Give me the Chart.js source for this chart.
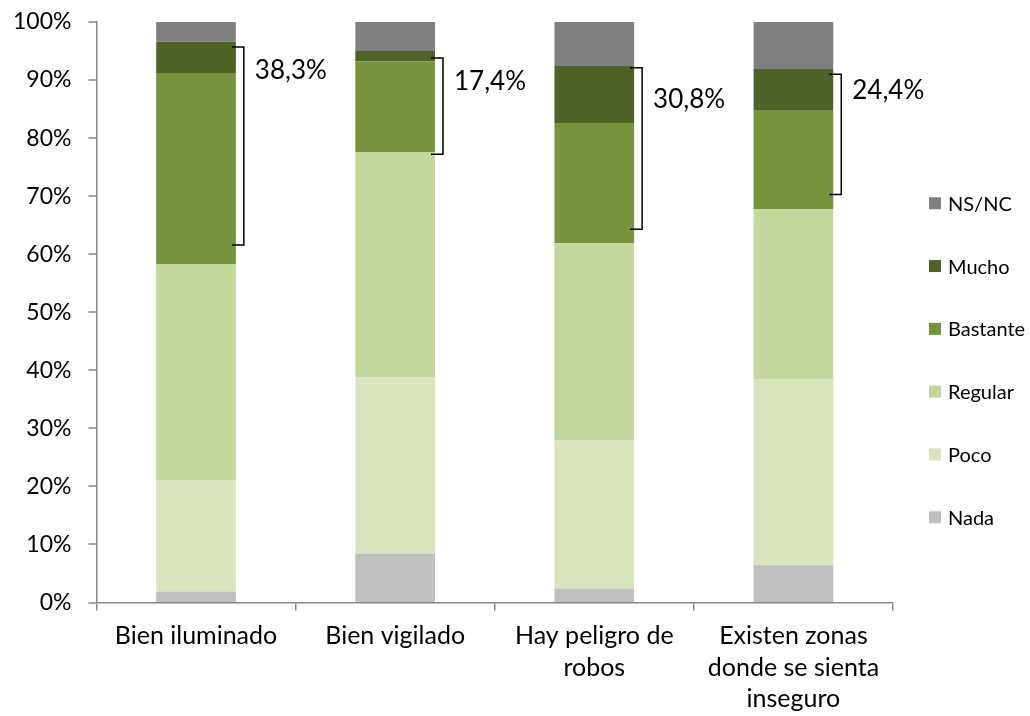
<!DOCTYPE html>
<html><head><meta charset="utf-8">
<script src="https://cdn.jsdelivr.net/npm/chart.js@4"></script>
<style>html,body{margin:0;padding:0;background:#fff}#wrap{width:1030px;height:716px;position:relative}</style>
</head><body><div id="wrap"><canvas id="c"></canvas></div>
<script>
const categories = ['Bien iluminado', 'Bien vigilado', ['Hay peligro de', 'robos'], ['Existen zonas', 'donde se sienta', 'inseguro']];
const seriesNames = ['Nada', 'Poco', 'Regular', 'Bastante', 'Mucho', 'NS/NC'];
const nada     = [1.9, 8.4, 2.4, 6.4];
const poco     = [19.1, 30.4, 25.5, 32.0];
const regular  = [37.3, 38.8, 34.0, 29.4];
const bastante = [32.9, 15.6, 20.7, 16.9];
const mucho    = [5.4, 1.8, 9.8, 7.2];
const nsnc     = [3.4, 5.0, 7.6, 8.1];
const yTickValues = [0, 10, 20, 30, 40, 50, 60, 70, 80, 90, 100];
const bracketLabels = ['38,3%', '17,4%', '30,8%', '24,4%'];
const bracketLow  = [61.6, 77.2, 64.3, 70.3];
const bracketHigh = [95.7, 93.8, 92.1, 91.0];
const bracketLabelAt = [91.6, 89.8, 86.7, 88.1];

const colors = ['#bfbfbf', '#d7e4bd', '#c3d69b', '#77933c', '#4f6228', '#7f7f7f'];
const seriesValues = [nada, poco, regular, bastante, mucho, nsnc];
const FONT = 'Lato, "Open Sans", sans-serif';
const AXIS = '#868686';

const datasets = seriesNames.map((n, i) => ({
  label: n, data: seriesValues[i], backgroundColor: colors[i], borderWidth: 0,
  categoryPercentage: 1.0, barPercentage: 0.4
}));

const annotPlugin = {
  id: 'annot',
  afterDraw(chart) {
    const ctx = chart.ctx, y = chart.scales.y, ca = chart.chartArea;
    ctx.save();
    // y tick marks (outside)
    ctx.strokeStyle = AXIS; ctx.lineWidth = 1.5;
    y.ticks.forEach(t => {
      const py = Math.round(y.getPixelForValue(t.value));
      ctx.beginPath(); ctx.moveTo(ca.left - 8, py); ctx.lineTo(ca.left, py); ctx.stroke();
    });
    // brackets
    const meta = chart.getDatasetMeta(0);
    ctx.strokeStyle = '#000'; ctx.lineWidth = 1.5;
    ctx.fillStyle = '#000'; ctx.font = '26px ' + FONT;
    ctx.textBaseline = 'middle'; ctx.textAlign = 'left';
    meta.data.forEach((bar, i) => {
      const right = bar.x + bar.width / 2;
      const x0 = right - 4, x1 = right + 8;
      const yt = y.getPixelForValue(bracketHigh[i]);
      const yb = y.getPixelForValue(bracketLow[i]);
      ctx.beginPath();
      ctx.moveTo(x0, yt); ctx.lineTo(x1, yt); ctx.lineTo(x1, yb); ctx.lineTo(x0, yb);
      ctx.stroke();
      ctx.fillText(bracketLabels[i], x1 + 11, y.getPixelForValue(bracketLabelAt[i]));
    });
    // legend
    const lx = ca.right + 36;
    const ly0 = (ca.top + ca.bottom) / 2 + 48 - 2.5 * 62.8;
    ctx.font = '20px ' + FONT;
    for (let k = 0; k < seriesNames.length; k++) {
      const idx = seriesNames.length - 1 - k;
      const cy = ly0 + k * 62.8;
      ctx.fillStyle = colors[idx];
      ctx.fillRect(lx, cy - 6, 12, 12);
      ctx.fillStyle = '#000';
      ctx.fillText(seriesNames[idx], lx + 19, cy + 1);
    }
    ctx.restore();
  }
};

new Chart(document.getElementById('c'), {
  type: 'bar',
  data: { labels: categories, datasets },
  options: {
    responsive: true, maintainAspectRatio: false, animation: false,
    layout: { padding: { left: 13, right: 137, top: 22, bottom: -9 } },
    plugins: { legend: { display: false }, tooltip: { enabled: false } },
    scales: {
      x: {
        stacked: true,
        border: { color: AXIS, width: 1.5 },
        grid: { drawOnChartArea: false, color: AXIS, tickLength: 8, offset: true, lineWidth: 1.5 },
        ticks: { color: '#000', font: { family: FONT, size: 25, lineHeight: 1.26 }, padding: 10, maxRotation: 0, autoSkip: false }
      },
      y: {
        stacked: true, min: 0, max: 100,
        afterBuildTicks(s) { s.ticks = yTickValues.map(v => ({ value: v })); },
        border: { color: AXIS, width: 1.5 },
        grid: { drawOnChartArea: false, color: 'rgba(0,0,0,0)', tickColor: 'rgba(0,0,0,0)', tickLength: 25 },
        ticks: { color: '#000', font: { family: FONT, size: 23 }, padding: 0, callback: v => v + '%' }
      }
    }
  },
  plugins: [annotPlugin]
});
</script></body></html>
